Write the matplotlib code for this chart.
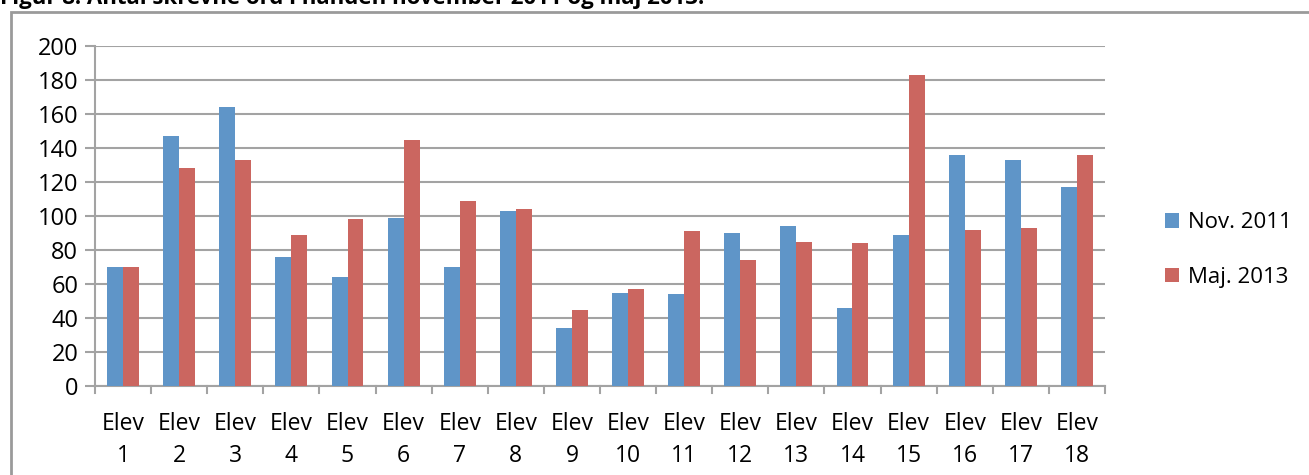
import matplotlib.pyplot as plt
import numpy as np
from matplotlib.patches import Rectangle
from matplotlib.lines import Line2D

plt.rcParams['font.family'] = ['Open Sans', 'DejaVu Sans']

# Data
students = [f'Elev\n{i}' for i in range(1, 19)]
nov_2011 = [70, 147, 164, 76, 64, 99, 70, 103, 34, 55, 54, 90, 94, 46, 89, 136, 133, 117]
maj_2013 = [70, 128, 133, 89, 98, 145, 109, 104, 45, 57, 91, 74, 85, 84, 183, 92, 93, 136]
series_names = ['Nov. 2011', 'Maj. 2013']
title = 'Figur 8. Antal skrevne ord i hånden november 2011 og maj 2013.'

blue = '#5F95C8'
red = '#CB6660'
grid_col = '#A3A3A3'

fig = plt.figure(figsize=(13.09, 4.75), dpi=100)
ax = fig.add_axes([95 / 1309, 89 / 475, 1010 / 1309, 340 / 475])

x = np.arange(len(students))
w = 0.285
ax.bar(x - w / 2, nov_2011, w, color=blue, label=series_names[0], zorder=3)
ax.bar(x + w / 2, maj_2013, w, color=red, label=series_names[1], zorder=3)

ax.set_xlim(-0.5, len(students) - 0.5)
ax.set_ylim(0, 200)
ax.set_yticks(range(0, 201, 20))
ax.tick_params(axis='y', labelsize=17, length=7, width=1.5, color=grid_col, pad=5)
ax.grid(axis='y', color=grid_col, linewidth=1.5, zorder=0)

# category labels centred, tick marks between categories
ax.set_xticks(x)
ax.set_xticklabels(students, fontsize=16.5, linespacing=1.42)
ax.tick_params(axis='x', length=0, pad=19)
for b in np.arange(-0.5, len(students), 1.0):
    ax.add_line(Line2D([b, b], [0, -0.02], transform=ax.get_xaxis_transform(),
                       color=grid_col, linewidth=1.5, clip_on=False))

for s in ['top', 'right']:
    ax.spines[s].set_visible(False)
for s in ['left', 'bottom']:
    ax.spines[s].set_color(grid_col)
    ax.spines[s].set_linewidth(1.5)

leg = ax.legend(loc='center left', bbox_to_anchor=(1.04, 0.40), frameon=False,
                fontsize=16, handlelength=0.6, handleheight=0.6,
                handletextpad=0.4, labelspacing=1.5)

# outer chart border (cut off at right and bottom)
fig.patches.append(Rectangle((11 / 1309, -0.05), 1.1, (475 - 12) / 475 + 0.05,
                             transform=fig.transFigure, fill=False,
                             edgecolor='#9A9A9A', linewidth=2))

# title, partly cut off at the top as in the source
fig.text(0.0, 1.005, title, fontsize=16, fontweight='bold', ha='left', va='center')

fig.savefig('out.png', dpi=100)
